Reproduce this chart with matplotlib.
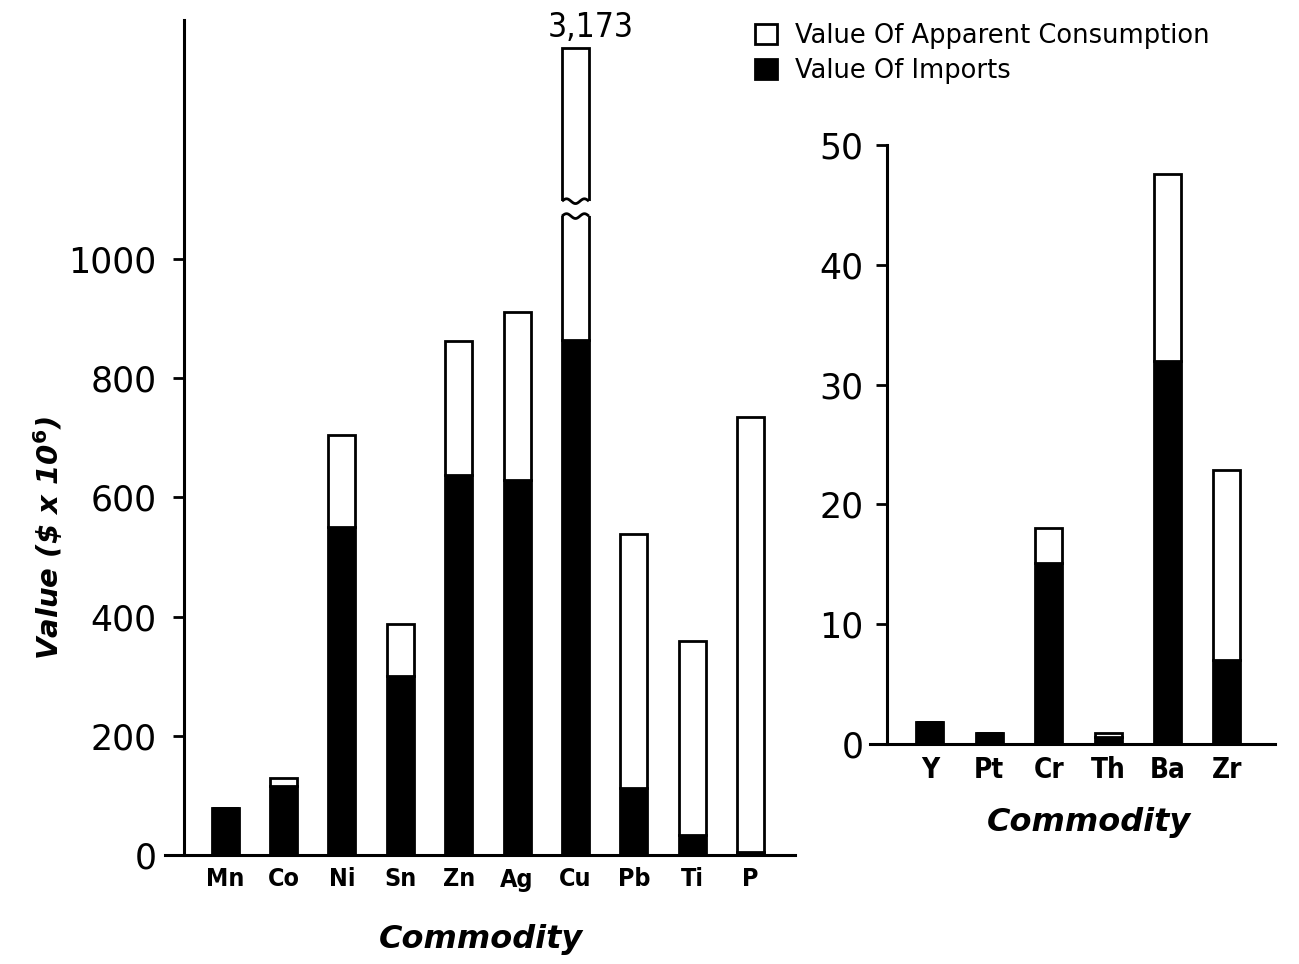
import numpy as np
import matplotlib.pyplot as plt
from matplotlib.patches import Patch, Polygon
from matplotlib import font_manager

# value of imports vs value of apparent consumption, $ x 10^6
left_names = ['Mn', 'Co', 'Ni', 'Sn', 'Zn', 'Ag', 'Cu', 'Pb', 'Ti', 'P']
left_total = [79, 129, 705, 387, 862, 911, 3173, 538, 359, 735]
left_imports = [79, 116, 550, 300, 637, 630, 864, 112, 34, 5]

right_names = ['Y', 'Pt', 'Cr', 'Th', 'Ba', 'Zr']
right_total = [1.8, 0.9, 18.0, 0.9, 47.6, 22.9]
right_imports = [1.8, 0.9, 15.1, 0.6, 32.0, 7.0]

left_ticks = [0, 200, 400, 600, 800, 1000]
right_ticks = [0, 10, 20, 30, 40, 50]

installed = {f.name for f in font_manager.fontManager.ttflist}
narrow = 'Liberation Sans Narrow' if 'Liberation Sans Narrow' in installed else 'DejaVu Sans'
narrow_kw = dict(family=narrow, stretch='condensed')

# broken y axis for the left panel: linear up to BRK, squeezed above it
BRK = 1085.0
SQZ = (1354.0 - BRK) / (3173.0 - BRK)


def fwd(v):
    v = np.asarray(v, dtype=float)
    return np.where(v <= BRK, v, BRK + (v - BRK) * SQZ)


def inv(d):
    d = np.asarray(d, dtype=float)
    return np.where(d <= BRK, d, BRK + (d - BRK) / SQZ)


lw = 2.0
W, H = 1299, 964
fig = plt.figure(figsize=(W / 100, H / 100), dpi=100)

ax1 = fig.add_axes([165 / W, (H - 855) / H, 630 / W, 835 / H])
ax2 = fig.add_axes([870 / W, (H - 744) / H, 405 / W, 599 / H])


def stacked(ax, names, total, imports, width):
    x = np.arange(len(names))
    imp = np.array(imports, dtype=float)
    rest = np.array(total, dtype=float) - imp
    ax.bar(x, imp, width, color='black', edgecolor='black', linewidth=lw, zorder=2)
    ax.bar(x, rest, width, bottom=imp, color='white', edgecolor='black',
           linewidth=lw, zorder=2)
    return x


x1 = stacked(ax1, left_names, left_total, left_imports, 0.46)
x2 = stacked(ax2, right_names, right_total, right_imports, 0.455)

ax1.set_yscale('function', functions=(fwd, inv))
ax1.set_ylim(0, float(inv(1401)))
ax1.set_xlim(-1.03, 9.76)
ax1.set_yticks(left_ticks)
ax1.spines['left'].set_position(('data', -0.70))

ax2.set_ylim(0, 50)
ax2.set_xlim(-1.01, 5.81)
ax2.set_yticks(right_ticks)
ax2.spines['left'].set_position(('data', -0.72))

for ax, names, fs, ypad in [(ax1, left_names, 18, 12), (ax2, right_names, 20, 9)]:
    ax.set_xticks(np.arange(len(names)))
    ax.set_xticklabels(names, fontsize=fs, fontweight='bold', **narrow_kw)
    ax.spines['top'].set_visible(False)
    ax.spines['right'].set_visible(False)
    ax.spines['left'].set_linewidth(2.2)
    ax.spines['bottom'].set_linewidth(2.2)
    ax.tick_params(axis='x', length=0, pad=9)
    ax.tick_params(axis='y', direction='out', length=8, width=2,
                   labelsize=25, pad=ypad)
    ax.set_facecolor('none')

# wavy break across the tall Cu bar
i = left_names.index('Cu')
half = 0.23
xs = np.linspace(x1[i] - half, x1[i] + half, 60)
wave = 4 * np.sin(2 * np.pi * 1.5 * (xs - xs[0]) / (2 * half))
low = 1072 + wave
high = 1097 + wave
gap = np.concatenate([np.column_stack([xs, inv(low)]),
                      np.column_stack([xs[::-1], inv(high[::-1])])])
gap[0, 0] -= 0.05
gap[len(xs) - 1, 0] += 0.05
gap[len(xs), 0] += 0.05
gap[-1, 0] -= 0.05
ax1.add_patch(Polygon(gap, closed=True, facecolor='white', edgecolor='none', zorder=3))
ax1.plot(xs, inv(low), color='black', lw=lw, zorder=4, solid_capstyle='butt')
ax1.plot(xs, inv(high), color='black', lw=lw, zorder=4, solid_capstyle='butt')

ax1.annotate(f'{left_total[i]:,}', (x1[i], left_total[i]), xytext=(11, 3),
             textcoords='offset points', ha='center', va='bottom',
             fontsize=24, **narrow_kw)

ax1.set_xlabel('Commodity', fontsize=23, fontweight='bold', style='italic')
ax1.xaxis.set_label_coords(0.501, -0.083)
ax2.set_xlabel('Commodity', fontsize=23, fontweight='bold', style='italic')
ax2.xaxis.set_label_coords(0.54, -0.105)

fig.text(48 / W, 1 - 538 / H, r'Value (\$ x 10$^{\mathbf{6}}$)', rotation=90,
         ha='center', va='center', fontsize=21, fontweight='bold', style='italic')

handles = [Patch(facecolor='white', edgecolor='black', linewidth=lw),
           Patch(facecolor='black', edgecolor='black', linewidth=lw)]
fig.legend(handles, ['Value Of Apparent Consumption', 'Value Of Imports'],
           loc='upper left', bbox_to_anchor=(742 / W, 1 - 10 / H), frameon=False,
           fontsize=18.5, handlelength=0.85, handleheight=0.85,
           handletextpad=0.7, labelspacing=0.35, borderpad=0)

fig.savefig('out.png', dpi=100, facecolor='white')
